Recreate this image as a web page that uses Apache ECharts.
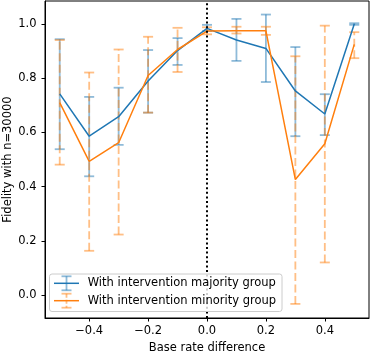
<!DOCTYPE html>
<html>
<head>
<meta charset="utf-8">
<script src="https://cdn.jsdelivr.net/npm/echarts@6/dist/echarts.min.js"></script>
</head>
<body style="margin:0">
<div id="fig" style="width:370px;height:352px"></div>
<script>
// base rate difference
var xs = [-0.5, -0.4, -0.3, -0.2, -0.1, 0.0, 0.1, 0.2, 0.3, 0.4, 0.5];
// majority group: mean and error bar ends
var majMean = [0.742, 0.586, 0.658, 0.790, 0.902, 0.984, 0.941, 0.910, 0.753, 0.668, 1.000];
var majLow  = [0.538, 0.438, 0.554, 0.673, 0.849, 0.974, 0.864, 0.786, 0.586, 0.590, 0.997];
var majHigh = [0.944, 0.731, 0.765, 0.904, 0.948, 0.997, 1.019, 1.035, 0.915, 0.741, 1.003];
// minority group
var minMean = [0.710, 0.493, 0.562, 0.810, 0.906, 0.974, 0.975, 0.975, 0.426, 0.558, 0.925];
var minLow  = [0.481, 0.163, 0.223, 0.673, 0.823, 0.962, 0.965, 0.960, -0.033, 0.120, 0.874];
var minHigh = [0.941, 0.821, 0.906, 0.953, 0.986, 0.988, 0.990, 0.990, 0.881, 0.994, 0.970];

var xTicks = [-0.4, -0.2, 0.0, 0.2, 0.4];
var yTicks = [0.0, 0.2, 0.4, 0.6, 0.8, 1.0];

var blue = '#1f77b4', orange = '#ff7f0e';
var blueA = 'rgba(31,119,180,0.5)', orangeA = 'rgba(255,127,14,0.5)';
var font = 'DejaVu Sans';
var fs = 11.5;

function fmt(v) {
  var s = Math.abs(v).toFixed(1);
  return v < -1e-9 ? '\u2212' + s : s;
}

function pairs(ys) {
  return xs.map(function (x, i) { return [x, ys[i]]; });
}

function errBars(name, low, high, col, dashed) {
  return {
    type: 'custom',
    name: name,
    clip: false,
    data: xs.map(function (x, i) { return [x, low[i], high[i]]; }),
    encode: { x: 0, y: [1, 2] },
    renderItem: function (params, api) {
      var lo = api.coord([api.value(0), api.value(1)]);
      var hi = api.coord([api.value(0), api.value(2)]);
      var c = 5;
      return {
        type: 'group',
        children: [
          { type: 'line', shape: { x1: lo[0], y1: lo[1], x2: hi[0], y2: hi[1] },
            style: { stroke: col, lineWidth: 1.8, lineDash: dashed ? [8, 3.5] : null } },
          { type: 'line', shape: { x1: lo[0] - c, y1: lo[1], x2: lo[0] + c, y2: lo[1] },
            style: { stroke: col, lineWidth: 1.8 } },
          { type: 'line', shape: { x1: hi[0] - c, y1: hi[1], x2: hi[0] + c, y2: hi[1] },
            style: { stroke: col, lineWidth: 1.8 } }
        ]
      };
    }
  };
}

// legend drawn by hand (matplotlib style errorbar handles)
function legendRow(y, col, colA, dashed, label) {
  return [
    { type: 'line', shape: { x1: 66.5, y1: y - 7, x2: 66.5, y2: y + 7 },
      style: { stroke: colA, lineWidth: 1.8, lineDash: dashed ? [4, 2] : null }, z: 101 },
    { type: 'line', shape: { x1: 61.5, y1: y - 7, x2: 71.5, y2: y - 7 }, style: { stroke: colA, lineWidth: 1.8 }, z: 101 },
    { type: 'line', shape: { x1: 61.5, y1: y + 7, x2: 71.5, y2: y + 7 }, style: { stroke: colA, lineWidth: 1.8 }, z: 101 },
    { type: 'line', shape: { x1: 54, y1: y, x2: 79, y2: y }, style: { stroke: col, lineWidth: 1.5 }, z: 102 },
    { type: 'text', x: 87.7, y: y, style: { text: label, fill: '#000', font: fs + 'px "DejaVu Sans"', textVerticalAlign: 'middle' }, z: 102 }
  ];
}

var chart = echarts.init(document.getElementById('fig'), null, { renderer: 'canvas' });

var option = {
  animation: false,
  grid: { left: 45, right: 1, top: 1, bottom: 34, show: true, borderColor: '#000', borderWidth: 1,
          outerBoundsMode: 'none', containLabel: false },
  xAxis: {
    type: 'value', min: -0.55, max: 0.55,
    name: 'Base rate difference', nameLocation: 'middle', nameGap: 24.5, nameMoveOverlap: false,
    nameTextStyle: { fontFamily: font, fontSize: fs, color: '#000' },
    splitLine: { show: false },
    axisLine: { show: true, onZero: false, lineStyle: { color: '#000', width: 1 } },
    axisTick: { show: true, length: 3.5, customValues: xTicks, lineStyle: { color: '#000' } },
    axisLabel: { customValues: xTicks, margin: 7.5, fontFamily: font, fontSize: fs, color: '#000', formatter: fmt }
  },
  yAxis: {
    type: 'value', min: -0.085, max: 1.085,
    name: 'Fidelity with n=30000', nameLocation: 'middle', nameGap: 31, nameMoveOverlap: false,
    nameTextStyle: { fontFamily: font, fontSize: fs, color: '#000' },
    splitLine: { show: false },
    axisLine: { show: true, onZero: false, lineStyle: { color: '#000', width: 1 } },
    axisTick: { show: true, length: 3.5, customValues: yTicks, lineStyle: { color: '#000' } },
    axisLabel: { customValues: yTicks, margin: 8.5, fontFamily: font, fontSize: fs, color: '#000', formatter: fmt }
  },
  series: [
    errBars('majErr', majLow, majHigh, blueA, false),
    { type: 'line', name: 'With intervention majority group', data: pairs(majMean),
      showSymbol: false, lineStyle: { color: blue, width: 1.5 }, itemStyle: { color: blue } },
    errBars('minErr', minLow, minHigh, orangeA, true),
    { type: 'line', name: 'With intervention minority group', data: pairs(minMean),
      showSymbol: false, lineStyle: { color: orange, width: 1.5 }, itemStyle: { color: orange },
      markLine: {
        silent: true, symbol: ['none', 'none'], label: { show: false },
        lineStyle: { color: '#000', width: 2, type: [2, 2.6] },
        data: [{ xAxis: 0 }]
      }
    }
  ],
  graphic: [
    { type: 'rect', shape: { x: 49.5, y: 274, width: 232.5, height: 37.5, r: 2.5 },
      style: { fill: 'rgba(255,255,255,0.8)', stroke: '#cccccc', lineWidth: 1 }, z: 100 }
  ].concat(legendRow(283.3, blue, blueA, false, 'With intervention majority group'))
   .concat(legendRow(300.7, orange, orangeA, true, 'With intervention minority group'))
};

chart.setOption(option);
</script>
</body>
</html>
